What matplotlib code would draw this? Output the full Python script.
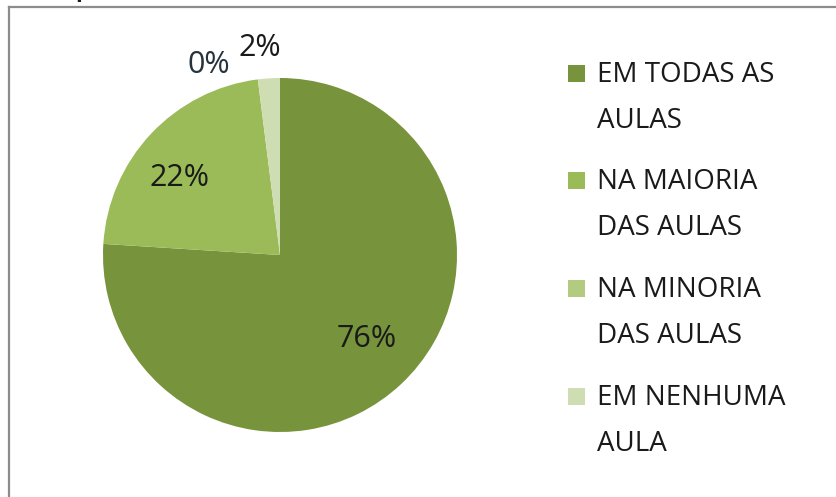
import numpy as np
import matplotlib.pyplot as plt
from matplotlib.lines import Line2D
from matplotlib.patches import Rectangle

plt.rcParams["font.family"] = ["Open Sans", "DejaVu Sans"]

# data
labels = ["EM TODAS AS\nAULAS", "NA MAIORIA\nDAS AULAS", "NA MINORIA\nDAS AULAS", "EM NENHUMA\nAULA"]
values = [76, 22, 0, 2]
pct_text = ["76%", "22%", "0%", "2%"]
colors = ["#77933C", "#9BBB59", "#B3CB80", "#CFDDB2"]
pct_colors = ["#1a1a1a", "#1a1a1a", "#26323c", "#1a1a1a"]

# label placement (radius factor, angle shift from wedge middle, degrees)
lab_r = [0.672, 0.728, 1.162, 1.192]
lab_dtheta = [3.8, 4.8, 13.0, 1.8]

W, H = 837, 497
fig = plt.figure(figsize=(W / 100, H / 100), dpi=100)

cx, cy, r = 280, 255, 177
ax = fig.add_axes([(cx - r) / W, (H - cy - r) / H, 2 * r / W, 2 * r / H])
wedges, _ = ax.pie(values, colors=colors, startangle=90, counterclock=False,
                   wedgeprops=dict(linewidth=0))
ax.set_xlim(-1, 1)
ax.set_ylim(-1, 1)
ax.set_aspect("equal")
ax.axis("off")

pct_size = 22
base_shift = 11 / r  # cap centre -> baseline, in axis units
for w, txt, rf, dt, tc in zip(wedges, pct_text, lab_r, lab_dtheta, pct_colors):
    th = np.deg2rad((w.theta1 + w.theta2) / 2 + dt)
    ax.text(rf * np.cos(th), rf * np.sin(th) - base_shift, txt, ha="center",
            va="baseline", fontsize=pct_size, color=tc, clip_on=False)

# legend drawn by hand (square + two-line label)
x_sq, x_txt, sq = 568, 597, 17
y0, step, gap = 72, 107.7, 46
leg_size = 20
for i, (lab, col) in enumerate(zip(labels, colors)):
    yc = y0 + i * step
    fig.patches.append(Rectangle((x_sq / W, 1 - (yc + 1 + sq / 2) / H), sq / W, sq / H,
                                 transform=fig.transFigure, color=col, lw=0))
    for k, line in enumerate(lab.split("\n")):
        fig.text(x_txt / W, 1 - (yc + k * gap + 9.5) / H, line, ha="left",
                 va="baseline", fontsize=leg_size, color="#1a1a1a")

# chart frame (only top and left edges are visible in the crop)
fig.add_artist(Line2D([9 / W, 1], [1 - 7 / H, 1 - 7 / H], transform=fig.transFigure,
                      color="#8c8c8c", lw=1.6))
fig.add_artist(Line2D([9 / W, 9 / W], [0, 1 - 7 / H], transform=fig.transFigure,
                      color="#8c8c8c", lw=1.6))
# cut-off title remnant at the top edge
fig.text(75 / W, 1 + 8 / H, "p", ha="left", va="center", fontsize=16, color="#1a1a1a",
         fontweight="bold")

fig.savefig("out.png", dpi=100)
